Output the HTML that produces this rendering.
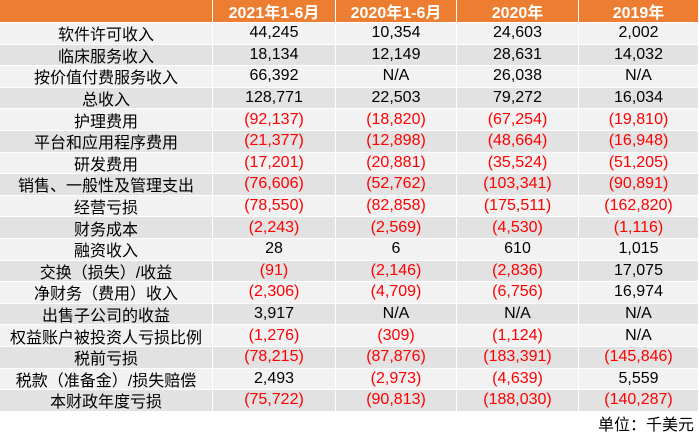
<!DOCTYPE html>
<html><head><meta charset="utf-8"><style>
body{margin:0;width:699px;height:432px;background:#fff;position:relative;overflow:hidden;font-family:"Liberation Sans","Noto Sans CJK SC",sans-serif;}
.row{position:absolute;left:0;width:699px;}
.c{position:absolute;top:0;height:100%;display:flex;align-items:center;justify-content:center;font-size:16px;color:#000;white-space:nowrap;}
.hdr .c{background:#ed7d31;color:#fff;font-weight:bold;font-size:16px;}
.neg{color:#ff0000 !important;}
#unit{position:absolute;right:5px;top:411px;font-size:16px;}
</style></head><body>
<div id="tbl"></div>
<div id="unit">单位：千美元</div>
<script>
const headers=["","2021年1-6月","2020年1-6月","2020年","2019年"];
const labels=["软件许可收入","临床服务收入","按价值付费服务收入","总收入","护理费用","平台和应用程序费用","研发费用","销售、一般性及管理支出","经营亏损","财务成本","融资收入","交换（损失）/收益","净财务（费用）收入","出售子公司的收益","权益账户被投资人亏损比例","税前亏损","税款（准备金）/损失赔偿","本财政年度亏损"];
const col2021H1=["44,245","18,134","66,392","128,771","(92,137)","(21,377)","(17,201)","(76,606)","(78,550)","(2,243)","28","(91)","(2,306)","3,917","(1,276)","(78,215)","2,493","(75,722)"];
const col2020H1=["10,354","12,149","N/A","22,503","(18,820)","(12,898)","(20,881)","(52,762)","(82,858)","(2,569)","6","(2,146)","(4,709)","N/A","(309)","(87,876)","(2,973)","(90,813)"];
const col2020=["24,603","28,631","26,038","79,272","(67,254)","(48,664)","(35,524)","(103,341)","(175,511)","(4,530)","610","(2,836)","(6,756)","N/A","(1,124)","(183,391)","(4,639)","(188,030)"];
const col2019=["2,002","14,032","N/A","16,034","(19,810)","(16,948)","(51,205)","(90,891)","(162,820)","(1,116)","1,015","17,075","16,974","N/A","N/A","(145,846)","5,559","(140,287)"];
const colX=[0,213,336,457,579,699];
const tbl=document.getElementById('tbl');
function mkRow(top,h,vals,bg,isHdr){
  const r=document.createElement('div');
  
  
  r.className='row'+(isHdr?' hdr':'');
  r.style.top=top+'px';r.style.height=h+'px';
  vals.forEach((v,j)=>{
    const c=document.createElement('div');
    
    
    c.className='c'+(!isHdr&&j>0&&v.startsWith('(')?' neg':'');
    c.style.left=colX[j]+'px';c.style.width=(colX[j+1]-colX[j]-1)+'px';
    if(!isHdr)c.style.background=bg;
    c.textContent=v;r.appendChild(c);
  });
  tbl.appendChild(r);
}
mkRow(0,22,headers,null,true);
const rh=21.6;
labels.forEach((l,i)=>{
  mkRow(23+i*rh,rh-1,[l,col2021H1[i],col2020H1[i],col2020[i],col2019[i]],i%2===0?'#f2f2f2':'#e2e2e2',false);
});
</script>
</body></html>
